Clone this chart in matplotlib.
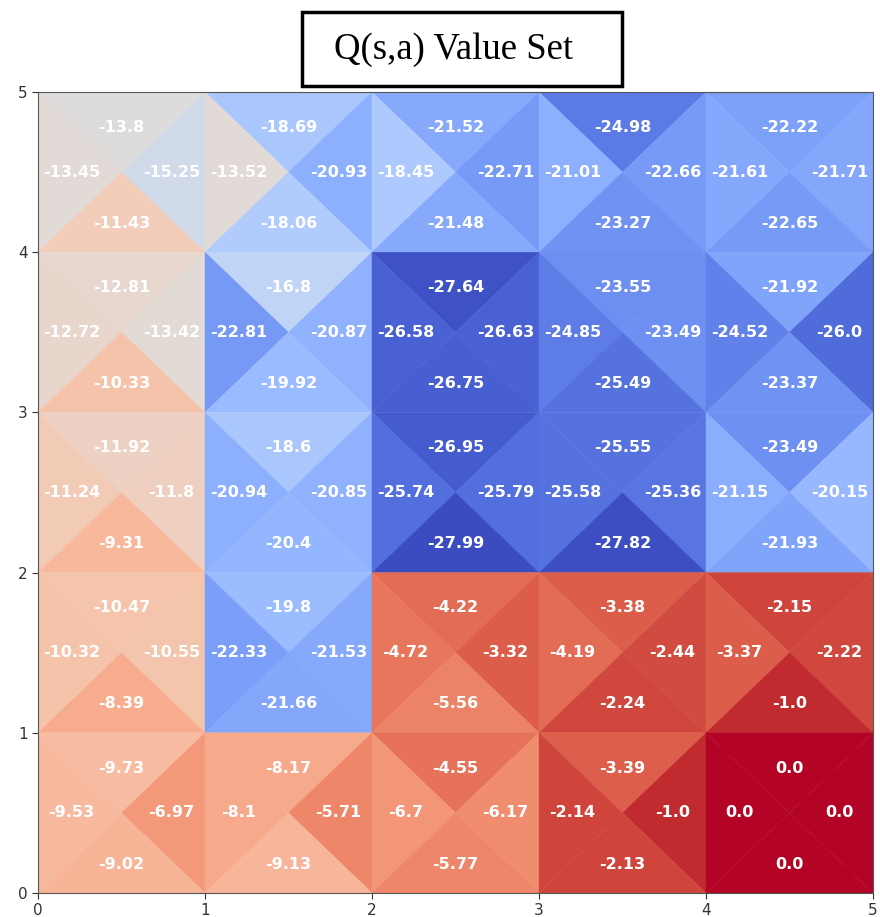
import numpy as np
import matplotlib
matplotlib.use('Agg')
import matplotlib.pyplot as plt
from matplotlib.collections import PolyCollection
from matplotlib.patches import Rectangle

# Q values per action, rows listed from top (y=4..5) to bottom (y=0..1)
q_up = [[-13.8, -18.69, -21.52, -24.98, -22.22],
        [-12.81, -16.8, -27.64, -23.55, -21.92],
        [-11.92, -18.6, -26.95, -25.55, -23.49],
        [-10.47, -19.8, -4.22, -3.38, -2.15],
        [-9.73, -8.17, -4.55, -3.39, 0.0]]
q_left = [[-13.45, -13.52, -18.45, -21.01, -21.61],
          [-12.72, -22.81, -26.58, -24.85, -24.52],
          [-11.24, -20.94, -25.74, -25.58, -21.15],
          [-10.32, -22.33, -4.72, -4.19, -3.37],
          [-9.53, -8.1, -6.7, -2.14, 0.0]]
q_right = [[-15.25, -20.93, -22.71, -22.66, -21.71],
           [-13.42, -20.87, -26.63, -23.49, -26.0],
           [-11.8, -20.85, -25.79, -25.36, -20.15],
           [-10.55, -21.53, -3.32, -2.44, -2.22],
           [-6.97, -5.71, -6.17, -1.0, 0.0]]
q_down = [[-11.43, -18.06, -21.48, -23.27, -22.65],
          [-10.33, -19.92, -26.75, -25.49, -23.37],
          [-9.31, -20.4, -27.99, -27.82, -21.93],
          [-8.39, -21.66, -5.56, -2.24, -1.0],
          [-9.02, -9.13, -5.77, -2.13, 0.0]]

n = 5
fig = plt.figure(figsize=(8.8, 9.17), dpi=100)
ax = fig.add_axes([38/880, 24/917, 835/880, 801/917])

polys = []
vals = []
labels = []
for r in range(n):
    y0 = n - 1 - r
    for c in range(n):
        x0 = c
        cx, cy = x0 + 0.5, y0 + 0.5
        tl, tr = (x0, y0 + 1), (x0 + 1, y0 + 1)
        bl, br = (x0, y0), (x0 + 1, y0)
        ctr = (cx, cy)
        polys += [[tl, tr, ctr], [tl, bl, ctr], [tr, br, ctr], [bl, br, ctr]]
        vals += [q_up[r][c], q_left[r][c], q_right[r][c], q_down[r][c]]
        labels += [(cx, cy + 0.28, q_up[r][c]), (cx - 0.3, cy, q_left[r][c]),
                   (cx + 0.3, cy, q_right[r][c]), (cx, cy - 0.32, q_down[r][c])]

pc = PolyCollection(polys, cmap='coolwarm', edgecolors='face', linewidths=0.3)
pc.set_array(np.array(vals))
pc.set_clim(min(vals), max(vals))
ax.add_collection(pc)

for x, y, v in labels:
    ax.text(x, y, str(v), color='white', fontweight='bold', fontsize=11.5,
            ha='center', va='center')

ax.set_xlim(0, 5)
ax.set_ylim(0, 5)
ax.set_xticks(range(6))
ax.set_yticks(range(6))
ax.tick_params(labelsize=11, colors='#333333', length=4)
for s in ax.spines.values():
    s.set_color('#555555')

# boxed title
fig.patches.append(Rectangle((302/880, 1 - 86/917), 320/880, 74/917,
                             transform=fig.transFigure, fill=False,
                             edgecolor='black', linewidth=2.5))
fig.text(454/880, 1 - 50/917, 'Q(s,a) Value Set', ha='center', va='center',
         fontsize=26.5, family='Liberation Serif')

plt.savefig('out.png', dpi=100)
